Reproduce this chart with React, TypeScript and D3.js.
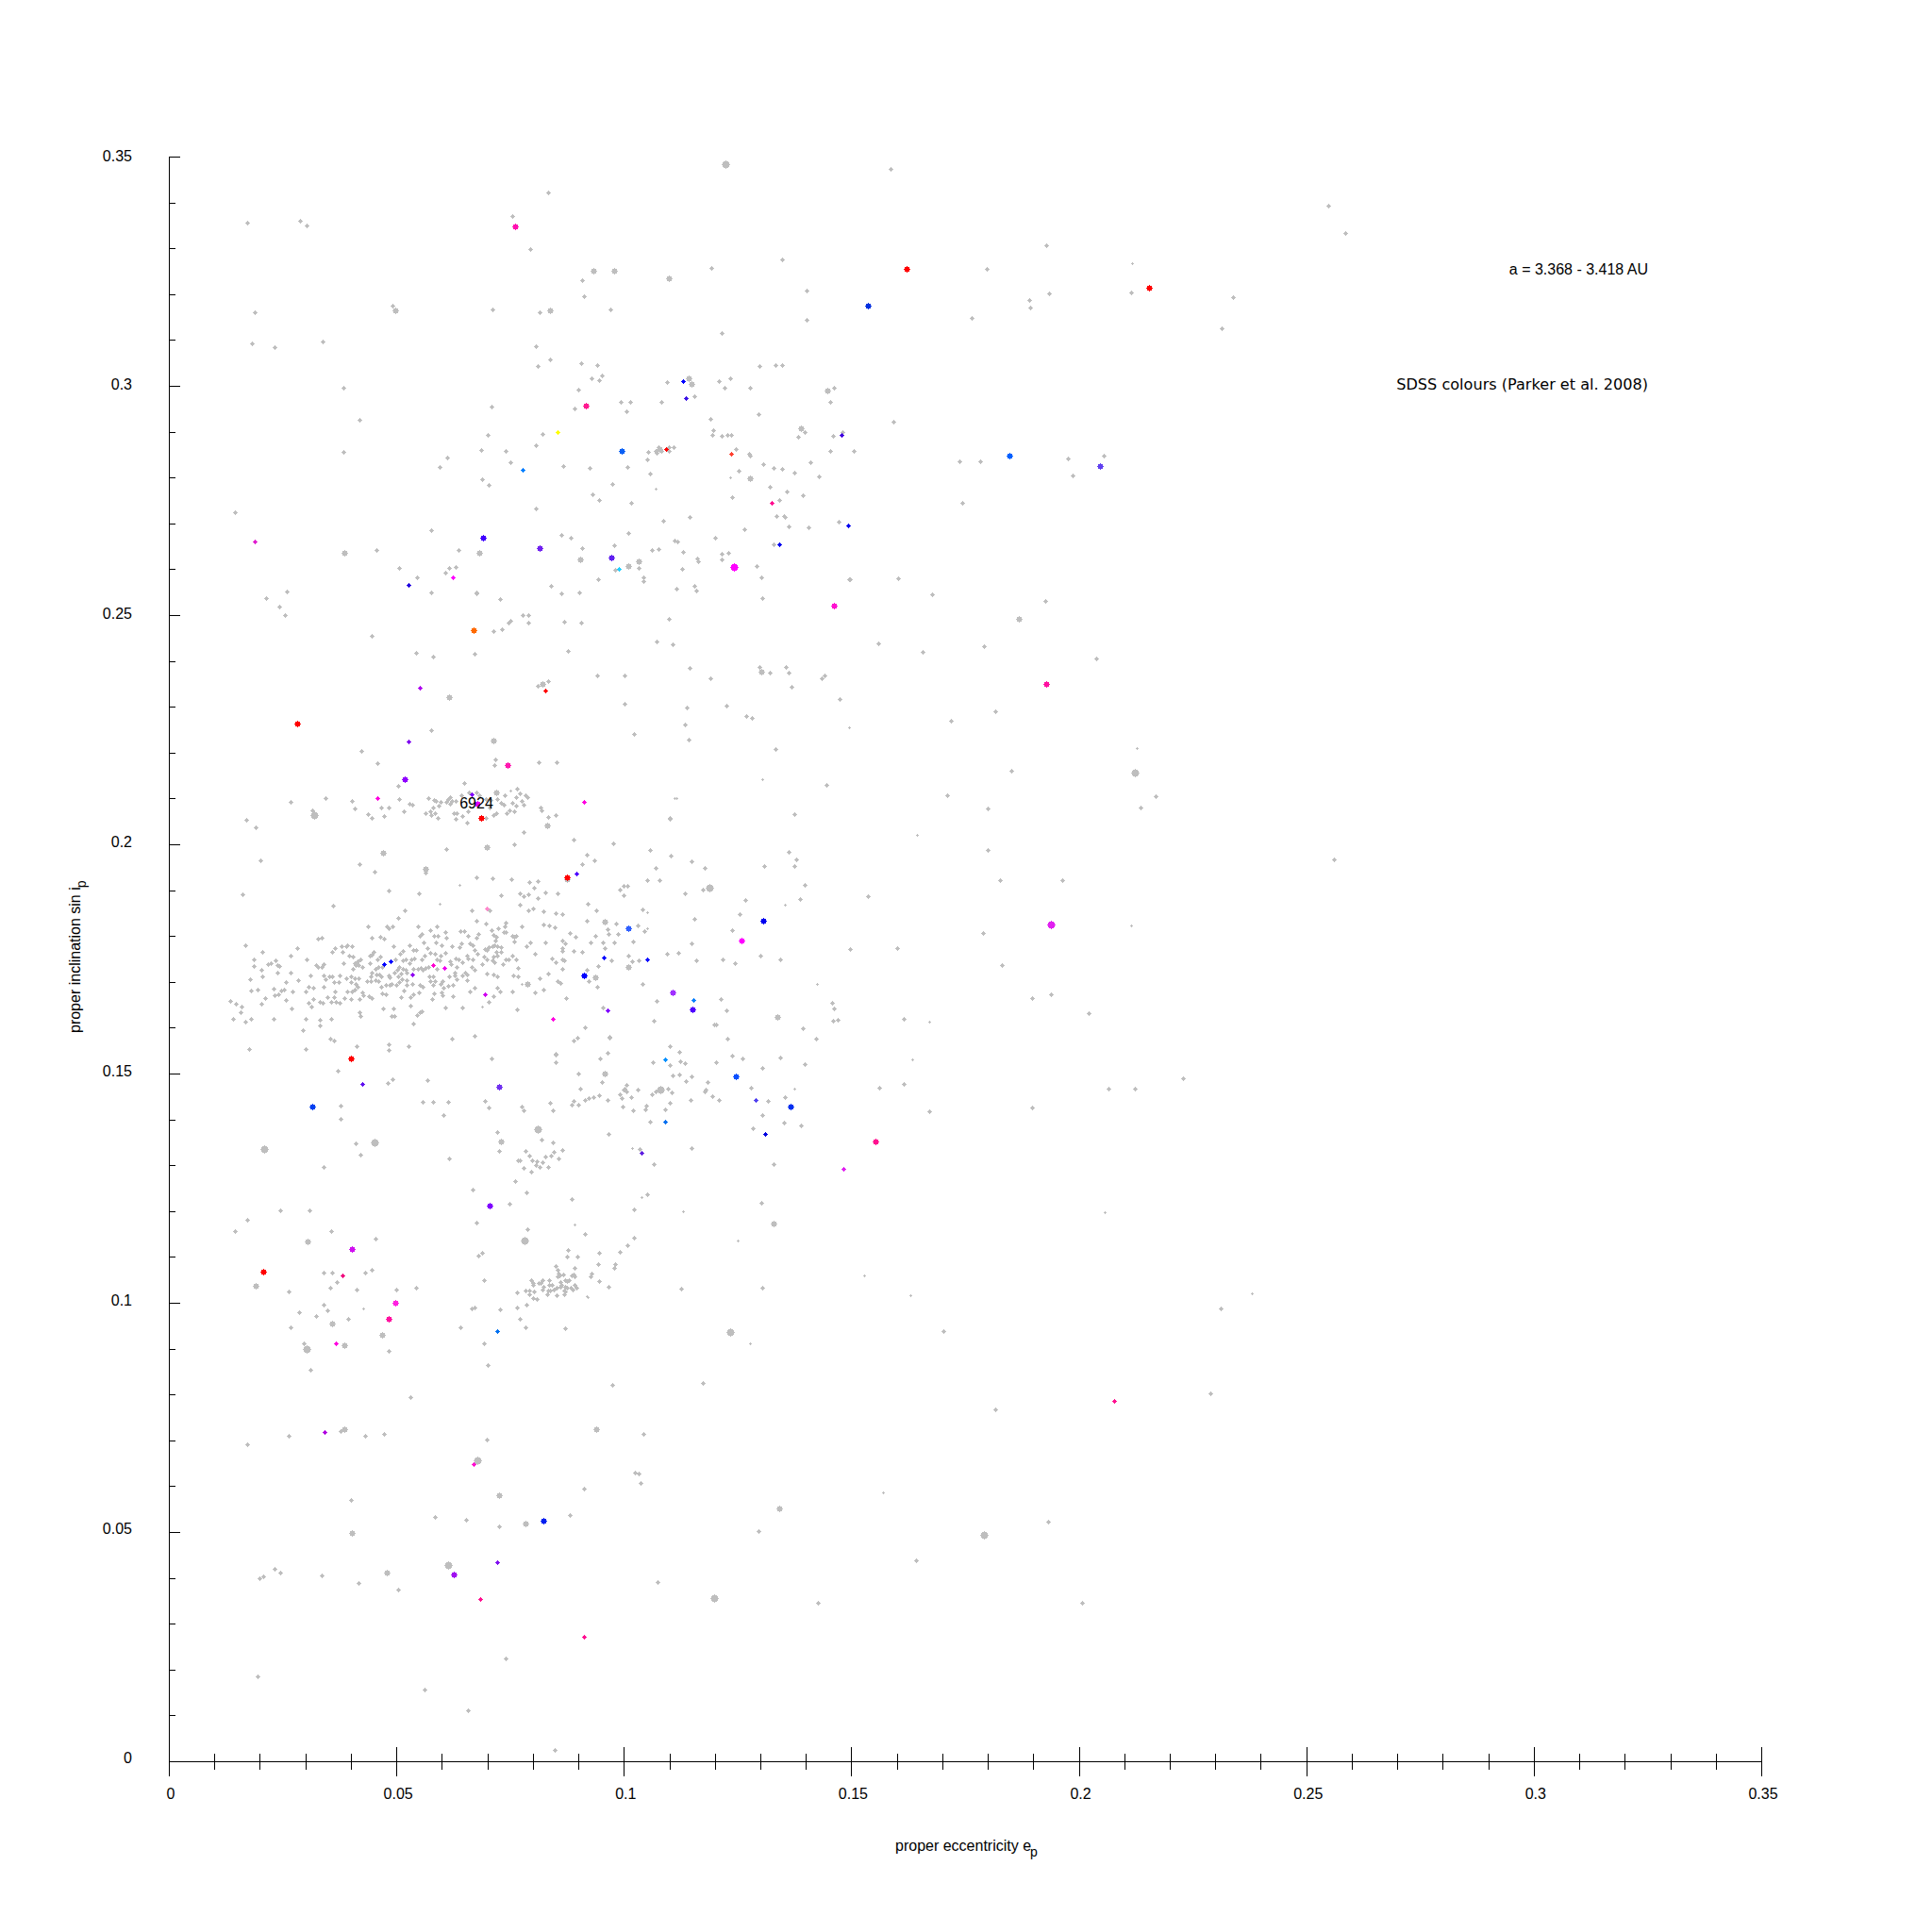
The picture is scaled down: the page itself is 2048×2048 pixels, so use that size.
import React from "react";
import * as d3 from "d3";

const xTickLabels = ["0", "0.05", "0.1", "0.15", "0.2", "0.25", "0.3", "0.35"];
const yTickLabels = ["0", "0.05", "0.1", "0.15", "0.2", "0.25", "0.3", "0.35"];

const grayTiny: [number, number][] = [
[.2117,.3268],[.1070,.2775],[.1233,.2800],[.1354,.1868],[.1051,.1851],[.1051,.1816],[.1424,.1695],[.1374,.1468],[.1018,.1337],[.0891,.1170],[.1038,.1230],[.0920,.1012],[.0595,.1870],[.0688,.1647],[.0775,.1695],[.0750,.2118],[.1115,.2100],[.1494,.2256],[.2127,.2210],[.1645,.2020],[.2115,.1823],[.1672,.1613],[.1634,.1530],[.1304,.2142],[.1112,.2100],[.0638,.1912],[.0427,.0987],[.0919,.1014],[.1131,.1200],[.1250,.1135],[.1529,.1060],[.1629,.1017],[.2057,.1197],[.2380,.1020],[.1277,.0912],[.1570,.0587]];

const grayMedium: [number, number][] = [
[.0933,.3252],[.0979,.3250],[.1098,.3235],[.0497,.3164],[.0838,.3164],[.1143,.3016],[.1148,.3005],[.1447,.2989],[.1389,.2907],[.1079,.2863],[.1277,.2798],[.0903,.2621],[.0682,.2635],[.1009,.2608],[.1032,.2617],[.0386,.2635],[.1868,.2492],[.1302,.2377],[.0822,.2350],[.0616,.2320],[.0714,.2227],[.0719,.2114],[.0831,.2041],[.0698,.1993],[.0470,.1981],[.0565,.1947],[.0874,.1923],[.1009,.1732],[.1337,.1623],[.0937,.1709],[.0788,.1695],[.0957,.1501],[.0957,.1831],[.0729,.1351],[.0305,.1134],[.0191,.1038],[.0359,.0955],[.0468,.0931],[.0386,.0907],[.0939,.0724],[.0386,.0724],[.1342,.0552],[.0402,.0498],[.0784,.0519],[.0478,.0412],[.1329,.1173],[.0725,.0581]];

const grayLarge: [number, number][] = [
[.1223,.3484],[.1188,.1905],[.1080,.1466],[.0810,.1378],[.0781,.1135],[.0319,.2063],[.0451,.1350],[.0210,.1336],[.0302,.0899],[.1234,.0936],[.0679,.0656],[.1792,.0493],[.0614,.0428],[.1199,.0356],[.2124,.2156]];

const graySmall: [number, number][] = [
[.1586,.3473],[.2549,.3392],[.2585,.3333],[.0833,.3422],[.0172,.3355],[.0289,.3360],[.0302,.3349],[.0754,.3371],[.0795,.3298],[.1928,.3306],[.1348,.3276],[.1193,.3258],[.0909,.3230],[.1797,.3255],[.1402,.3207],[.0912,.3196],[.1935,.3202],[.2114,.3204],[.2339,.3193],[.1892,.3187],[.1894,.3170],[.0492,.3175],[.0188,.3161],[.0814,.3161],[.0971,.3166],[.0711,.3166],[.1402,.3145],[.1764,.3148],[.2314,.3126],[.1215,.3115],[.0337,.3097],[.0183,.3092],[.0232,.3084],[.0806,.3086],[.0384,.2995],[.0419,.2925],[.0838,.3057],[.0811,.3043],[.0906,.3049],[.0952,.3022],[.1592,.2922],[.1299,.3043],[.1334,.3046],[.1348,.3046],[.0941,.3046],
[.0928,.3016],[.0945,.3012],[.1094,.3008],[.1208,.3010],[.1233,.3016],[.1221,.2995],[.1277,.2995],[.1461,.2995],[.0899,.2991],[.0993,.2966],[.1014,.2966],[.1082,.2964],[.1155,.2977],[.1453,.2966],[.0709,.2954],[.0891,.2950],[.1005,.2944],[.1295,.2938],[.1190,.2927],[.1383,.2888],[.1397,.2899],[.1480,.2900],[.1459,.2890],[.0700,.2894],[.0821,.2896],[.0806,.2870],[.0686,.2861],[.0740,.2859],[.0750,.2833],[.0688,.2796],[.0703,.2783],[.0866,.2826],[.0924,.2822],[.1007,.2824],[.0974,.2785],[.0931,.2763],[.0945,.2750],[.1016,.2744],[.0806,.2732],[.1057,.2808],[.1051,.2839],[.1053,.2855],[.1070,.2859],[.1072,.2853],[.1083,.2857],[.1076,.2866],[.1099,.2866],[.1099,.2859],[.1109,.2866],[.1196,.2903],[.1194,.2892],[.1215,.2890],[.1227,.2892],[.1235,.2894],[.1246,.2863],[.1275,.2851],[.1277,.2847],[.1252,.2814],[.1306,.2829],[.1329,.2820],[.1347,.2818],[.1374,.2810],[.1410,.2833],[.1428,.2802],[.1453,.2859],[.1505,.2859],[.1320,.2779],[.1358,.2769],[.1237,.2757],[.1341,.2750],[.1393,.2761],[.1335,.2717],[.1352,.2717],[.1354,.2713],[.1362,.2693],[.1405,.2691],[.1472,.2703],[.1264,.2687],[.1144,.2715],[.1086,.2705],[.1009,.2678],[.0862,.2674],[.0883,.2668],[.0908,.2647],[.0978,.2652],[.1111,.2662],[.1117,.2660],[.1200,.2668],[.1061,.2643],[.1076,.2645],[.1329,.2654],[.1130,.2637],[.1215,.2633],[.1229,.2635],[.1215,.2621],[.1161,.2623],[.1163,.2617],[.1032,.2602],[.0980,.2598],[.1128,.2600],[.1291,.2608],[.1302,.2582],[.1497,.2579],[.0943,.2579],[.1043,.2582],[.1043,.2575],[.0839,.2563],[.1115,.2557],[.1155,.2563],[.1159,.2553],[.0676,.2547],[.0862,.2547],[.0901,.2549],[.0727,.2534],[.1304,.2538],[.0777,.2501],[.0790,.2501],[.0790,.2483],[.0750,.2487],[.0746,.2483],[.0732,.2470],[.0713,.2466],[.0868,.2485],[.0906,.2483],[.1099,.2491],[.1072,.2442],[.1107,.2436],[.0671,.2415],[.0877,.2421],
[.1057,.1987],[.1103,.1975],[.1148,.1962],[.1070,.1948],[.1177,.1948],[.1051,.1921],[.1078,.1921],[.0991,.1901],[.0999,.1909],[.1007,.1909],[.0999,.1888],[.1173,.1901],[.1134,.1892],[.1362,.1983],[.1378,.1968],[.1374,.1952],[.1308,.1952],[.1397,.1911],[.1387,.1880],[.1267,.1878],[.1536,.1886],[.1254,.1847],[.1040,.1857],[.1155,.1837],[.1238,.1812],[.0982,.1827],[.1030,.1823],[.1045,.1810],[.0964,.1814],[.0987,.1804],[.0966,.1804],[.1020,.1789],[.0978,.1787],[.1148,.1783],[.0958,.1773],[.1094,.1761],[.1119,.1763],[.1009,.1757],[.0972,.1746],[.1018,.1744],[.1032,.1746],[.1159,.1746],[.1217,.1748],[.1244,.1740],[.1300,.1757],[.1343,.1750],[.1497,.1771],[.1600,.1773],[.1040,.1695],[.1072,.1658],[.1213,.1662],[.1457,.1654],[.1461,.1643],[.1225,.1637],[.1065,.1615],[.1198,.1608],[.1202,.1608],[.1459,.1615],[.1470,.1617],[.1615,.1619],[.1393,.1598],[.1422,.1576],[.1227,.1577],[.0968,.1580],[.1101,.1559],[.1121,.1547],[.0964,.1545],[.1238,.1540],[.1260,.1532],[.1343,.1536],[.1123,.1526],[.1063,.1524],[.1134,.1522],[.1101,.1518],[.1202,.1524],[.1397,.1520],[.1304,.1512],[.1107,.1495],[.1121,.1497],[.1148,.1493],[.1136,.1483],[.1184,.1481],[.1279,.1470],[.1561,.1470],[.1615,.1477],[.1030,.1464],[.1096,.1468],[.1105,.1458],[.1179,.1464],
[.0889,.1573],[.0897,.1578],[.0968,.1578],[.0850,.1543],[.0850,.1524],[.0947,.1532],[.0899,.1499],[.0951,.1481],[.0904,.1468],[.0837,.1436],[.0885,.1433],[.0889,.1440],[.0899,.1433],[.0914,.1442],[.0922,.1446],[.0933,.1448],[.0945,.1452],[.0844,.1419],[.0964,.1442],[.0991,.1454],[.0995,.1446],[.0997,.1429],[.1016,.1448],[.1020,.1419],[.1049,.1431],[.1047,.1421],[.1061,.1454],[.1090,.1421],[.1101,.1436],[.1057,.1396],[.1146,.1442],[.1177,.1460],[.1194,.1450],[.1208,.1442],[.1316,.1440],[.1353,.1448],[.1304,.1409],[.1351,.1394],[.1389,.1386],[.1283,.1380],[.0966,.1368],[.0819,.1355],[.0844,.1349],[.0864,.1333],[.0846,.1329],[.0839,.1320],[.0827,.1318],[.0856,.1314],[.0792,.1322],[.0798,.1310],[.0808,.1308],[.0821,.1306],[.0806,.1300],[.0814,.1296],[.0833,.1296],[.0796,.1287],[.1034,.1335],[.1148,.1337],[.1065,.1302],[.1329,.1302],[.1005,.1475],[.1001,.1468],[.0999,.1464],[.1005,.1460],[.1030,.1464],[.1070,.1460],
[.0721,.1372],[.0725,.1331],[.0783,.1331],[.0767,.1310],[.0771,.1310],[.0779,.1294],[.0761,.1265],[.0667,.1246],[.0785,.1240],[.0748,.1217],[.0885,.1226],[.0676,.1174],[.0788,.1160],[.0914,.1150],[.1051,.1236],[.1022,.1203],[.1022,.1143],[.1007,.1125],[.0991,.1112],[.0945,.1110],[.0877,.1115],[.0875,.1100],[.0897,.1100],[.0688,.1110],[.0680,.1102],[.0692,.1049],[.0891,.1077],[.0943,.1084],[.0980,.1084],[.0978,.1077],[.0928,.1063],[.0926,.1057],[.0945,.1047],[.0966,.1034],[.0850,.1080],[.0854,.1071],[.0856,.1063],[.0854,.1057],[.0858,.1059],[.0866,.1061],[.0885,.1059],[.0890,.1061],[.0891,.1057],[.0870,.1050],[.0879,.1050],[.0875,.1047],[.0796,.1049],[.0800,.1043],[.0800,.1039],[.0821,.1049],[.0812,.1043],[.0817,.1043],[.0835,.1049],[.0823,.1036],[.0821,.1028],[.0835,.1039],[.0841,.1040],[.0860,.1045],[.0862,.1039],[.0860,.1034],[.0870,.1034],[.0875,.1032],[.0883,.1032],[.0891,.1039],[.0895,.1032],[.0887,.1028],[.0852,.1032],[.0846,.1028],[.0837,.1026],[.0833,.1026],[.0831,.1018],[.0852,.1016],[.0869,.1026],[.0870,.1024],[.0869,.1018],[.0765,.1022],[.0783,.1026],[.0792,.1026],[.0802,.1024],[.0792,.1018],[.0800,.1010],[.0808,.1008],[.0672,.0989],[.0727,.0985],[.0765,.0989],[.0785,.0995],[.0771,.0964]];

const grayCluster: [number, number][] = [
[.0135,.1658],[.0147,.1652],[.0159,.1647],[.0157,.1633],[.0141,.1619],[.0168,.1613],[.0180,.1619],[.0176,.1553],[.0168,.1779],[.0186,.1748],[.0186,.1734],[.0203,.1726],[.0205,.1765],[.0179,.1705],[.0205,.1711],[.0180,.1682],[.0195,.1684],[.0211,.1664],[.0203,.1652],[.0230,.1619],[.0218,.1738],[.0224,.1740],[.0234,.1746],[.0238,.1736],[.0242,.1734],[.0238,.1721],[.0267,.1758],[.0282,.1773],[.0267,.1721],[.0257,.1699],[.0284,.1703],[.0230,.1686],[.0246,.1682],[.0253,.1684],[.0271,.1678],[.0232,.1670],[.0240,.1672],[.0257,.1660],[.0269,.1643],[.0300,.1680],[.0307,.1689],[.0317,.1687],[.0317,.1662],[.0307,.1654],[.0313,.1647],[.0331,.1656],[.0338,.1654],[.0348,.1666],[.0356,.1656],[.0363,.1666],[.0367,.1656],[.0375,.1654],[.0385,.1664],[.0400,.1662],[.0419,.1662],[.0303,.1748],[.0311,.1713],[.0323,.1736],[.0327,.1732],[.0340,.1738],[.0335,.1732],[.0340,.1715],[.0344,.1705],[.0340,.1689],[.0352,.1711],[.0358,.1711],[.0363,.1699],[.0373,.1699],[.0375,.1713],[.0389,.1707],[.0400,.1711],[.0408,.1707],[.0410,.1695],[.0400,.1699],[.0416,.1707],[.0365,.1678],[.0391,.1680],[.0402,.1680],[.0408,.1684],[.0414,.1689],[.0425,.1676],[.0427,.1670],[.0439,.1668],[.0445,.1664],[.0327,.1794],[.0335,.1796],[.0358,.1765],[.0365,.1773],[.0379,.1777],[.0389,.1777],[.0392,.1780],[.0402,.1777],[.0381,.1765],[.0396,.1758],[.0404,.1756],[.0383,.1740],[.0408,.1740],[.0414,.1744],[.0421,.1750],[.0410,.1736],[.0416,.1736],[.0404,.1728],[.0425,.1732],[.0441,.1758],[.0445,.1760],[.0450,.1765],[.0441,.1740],[.0464,.1756],[.0458,.1750],[.0445,.1721],[.0454,.1728],[.0460,.1732],[.0468,.1732],[.0456,.1717],[.0462,.1717],[.0443,.1711],[.0435,.1701],[.0443,.1701],[.0454,.1703],[.0460,.1701],[.0466,.1711],[.0483,.1715],[.0485,.1709],[.0495,.1721],[.0502,.1726],[.0506,.1732],[.0514,.1728],[.0520,.1726],[.0510,.1719],[.0522,.1721],[.0504,.1711],[.0512,.1705],[.0522,.1703],[.0489,.1695],[.0477,.1693],[.0466,.1689],[.0485,.1693],[.0499,.1693],[.0506,.1699],[.0522,.1693],[.0535,.1695],[.0551,.1693],[.0558,.1689],[.0516,.1682],[.0477,.1672],[.0468,.1674],[.0510,.1666],[.0531,.1666],[.0537,.1672],[.0549,.1676],[.0531,.1648],[.0470,.1643],[.0493,.1643],[.0489,.1625],[.0495,.1625],[.0537,.1610],[.0545,.1627],[.0551,.1633],[.0556,.1635],[.0419,.1633],[.0421,.1625],[.0300,.1619],[.0331,.1617],[.0331,.1604],[.0356,.1619],[.0294,.1594],[.0354,.1577],[.0363,.1573],[.0300,.1553],[.0412,.1559],[.0483,.1563],[.0483,.1551],[.0527,.1559],[.0371,.1507],[.0491,.1487],[.0481,.1479],[.0568,.1485],[.0622,.1577],[.0672,.1582],[.0709,.1532],[.0607,.1645],[.0645,.1645],[.0703,.1656],[.0582,.1674],[.0578,.1662],[.0599,.1676],[.0601,.1670],[.0624,.1668],[.0661,.1680],[.0672,.1687],[.0713,.1668],[.0721,.1687],[.0727,.1678],[.0754,.1678],[.0765,.1639],[.0804,.1676],[.0823,.1684],[.0873,.1664],[.0815,.1707],[.0833,.1719],[.0854,.1701],[.0860,.1697],[.0922,.1701],[.0941,.1689],[.0953,.1645],[.0914,.1600],[.0889,.1573],[.0850,.1542],[.0947,.1532],[.0842,.1751],[.0850,.1742],[.0864,.1728],[.0864,.1748],[.0869,.1746],[.0864,.1767],[.0864,.1773],[.0889,.1767],[.0908,.1765],[.0864,.1791],[.0871,.1783],[.0827,.1785],[.0804,.1761],[.0785,.1777],[.0794,.1785],[.0881,.1806],[.0893,.1798],[.0823,.1826],[.0835,.1824],[.0848,.1818],[.0918,.1833],[.0823,.1853],[.0850,.1849],[.0864,.1847],[.0939,.1855],[.0920,.1870],[.0800,.1861],[.0790,.1855],[.0771,.1868],[.0779,.1886],[.0810,.1882],[.0926,.1787],[.0937,.1800],[.0953,.1785],[.0957,.1773],[.0943,.1734],[.0918,.1726],[.0767,.1730],[.0756,.1713],[.0767,.1711],[.0763,.1748],[.0746,.1750],[.0740,.1750],[.0754,.1758],[.0734,.1738],[.0775,.1820],[.0758,.1798],[.0754,.1800],[.0763,.1800],[.0758,.1789],[.0740,.1830],[.0738,.1822],[.0723,.1816],[.0710,.1812],[.0736,.1808],[.0740,.1808],[.0713,.1802],[.0719,.1798],[.0717,.1791],[.0696,.1828],[.0676,.1834],[.0665,.1855],[.0360,.1866],[.0518,.1855],[.0504,.1839],[.0437,.1820],[.0479,.1822],[.0483,.1816],[.0705,.1855],[.0547,.1820],[.0589,.1820],[.0574,.1812],[.0607,.1808],[.0555,.1804],[.0551,.1800],[.0582,.1800],[.0591,.1800],[.0609,.1796],[.0640,.1810],[.0649,.1810],[.0657,.1800],[.0680,.1804],[.0676,.1796],[.0445,.1796],[.0464,.1798],[.0472,.1794],[.0493,.1777],[.0528,.1779],[.0514,.1767],[.0508,.1761],[.0537,.1769],[.0543,.1769],[.0560,.1785],[.0587,.1785],[.0599,.1779],[.0622,.1777],[.0642,.1783],[.0638,.1775],[.0661,.1783],[.0667,.1779],[.0694,.1771],[.0702,.1775],[.0711,.1777],[.0715,.1779],[.0721,.1777],[.0729,.1775],[.0719,.1765],[.0713,.1756],[.0721,.1758],[.0729,.1765],[.0699,.1769],[.0692,.1756],[.0699,.1750],[.0711,.1746],[.0715,.1742],[.0688,.1738],[.0678,.1761],[.0672,.1769],[.0568,.1773],[.0574,.1763],[.0561,.1758],[.0555,.1750],[.0585,.1761],[.0597,.1758],[.0607,.1763],[.0589,.1748],[.0595,.1746],[.0630,.1752],[.0636,.1748],[.0645,.1742],[.0655,.1758],[.0657,.1752],[.0667,.1750],[.0618,.1744],[.0620,.1738],[.0632,.1732],[.0665,.1732],[.0672,.1726],[.0699,.1719],[.0713,.1717],[.0721,.1711],[.0651,.1721],[.0655,.1717],[.0644,.1713],[.0655,.1703],[.0632,.1705],[.0628,.1721],[.0628,.1713],[.0589,.1728],[.0553,.1730],[.0564,.1730],[.0570,.1733],[.0558,.1726],[.0547,.1728],[.0537,.1728],[.0533,.1750],[.0520,.1750],[.0539,.1752],[.0497,.1750],[.0514,.1746],[.0528,.1740],[.0572,.1711],[.0580,.1711],[.0574,.1701],[.0584,.1701],[.0601,.1701],[.0597,.1695],[.0580,.1693],[.0613,.1691],[.0624,.1693],[.0603,.1687],[.0615,.1711],
[.0503,.2127],[.0344,.2100],[.0402,.2094],[.0408,.2078],[.0437,.2065],[.0445,.2057],[.0466,.2080],[.0483,.2080],[.0472,.2061],[.0506,.2098],[.0516,.2073],[.0528,.2088],[.0535,.2086],[.0315,.2075],[.0570,.2100],[.0564,.2067],[.0574,.2073],[.0576,.2063],[.0580,.2080],[.0584,.2068],[.0591,.2057],[.0593,.2084],[.0597,.2092],[.0582,.2096],[.0586,.2094],[.0609,.2092],[.0613,.2098],[.0617,.2102],[.0622,.2094],[.0617,.2088],[.0630,.2094],[.0626,.2067],[.0632,.2067],[.0630,.2055],[.0644,.2061],[.0655,.2047],[.0649,.2133],[.0642,.2108],[.0657,.2073],[.0659,.2114],[.0676,.2114],[.0682,.2106],[.0696,.2098],[.0707,.2096],[.0721,.2098],[.0738,.2106],[.0765,.2122],[.0771,.2112],[.0763,.2102],[.0783,.2108],[.0787,.2102],[.0775,.2094],[.0754,.2090],[.0763,.2084],[.0779,.2086],[.0729,.2090],[.0736,.2086],[.0748,.2075],[.0758,.2073],[.0742,.2068],[.0713,.2063],[.0719,.2067],[.0696,.2057],[.0705,.2080],[.0816,.2080],[.0819,.2075],[.0833,.2059],[.0850,.2063],[.0779,.2026],[.0758,.2000],[.0609,.1989],[.0418,.1956],[.0564,.1939],[.0812,.2180],[.0852,.2178],[.0717,.2186],[.0715,.2172],[.1100,.2055],[.0976,.2003],[.0889,.2010],[.0918,.1977],[.0908,.1956],[.0935,.1964]];

const graySparse: [number, number][] = [
[.0833,.2355],[.0811,.2345],[.0941,.2368],[.1001,.2368],[.1001,.2307],[.1023,.2240],[.1139,.2299],[.1134,.2262],[.1142,.2229],[.1144,.2384],[.1190,.2363],[.1226,.2303],[.1269,.2280],[.1282,.2276],[.1299,.2387],[.1320,.2374],[.1356,.2387],[.1362,.2374],[.1369,.2344],[.1442,.2368],[.1434,.2363],[.1475,.2317],[.1559,.2438],[.1656,.2420],[.1792,.2433],[.1927,.2530],[.2038,.2406],[.1678,.2546],[.1602,.2581],[.1496,.2578],[.1719,.2269],[.1816,.2290],[.1851,.2161],[.2168,.2105],[.2135,.2081],[.2561,.1968],[.1710,.2108],[.1800,.2079],[.1800,.1987],[.1963,.1922],[.1827,.1922],[.1789,.1807],[.1830,.1737],[.1897,.1664],[.1939,.1672],[.2022,.1631],[.1672,.1417],[.1897,.1425],[.2065,.1468],[.2124,.1468],[.2230,.1489],[.1445,.2129],[.1375,.2065],[.1334,.2208],[.1101,.2057],
[.0576,.2249],[.0424,.2203],[.0459,.2176],[.0267,.2092],[.0170,.2054],[.0191,.2037],[.0202,.1966],[.0161,.1890],[.0419,.1957],[.0451,.1941],[.0676,.1927],[.0711,.1926],[.0752,.1923],[.0549,.1893],[.0484,.1900],[.0492,.1820],[.0790,.1890],[.0793,.1917],[.0811,.1919],[.0803,.1905],[.0771,.1893],[.0730,.1888],[.0828,.1896],[.0855,.1893],
[.0145,.2724],[.0457,.2643],[.0505,.2603],[.0546,.2583],[.0576,.2686],[.0636,.2641],[.0615,.2603],[.0607,.2592],[.0630,.2605],[.0576,.2549],[.0676,.2549],[.0446,.2455],[.0259,.2551],[.0213,.2537],[.0243,.2519],[.0256,.2500],[.0543,.2417],[.0581,.2409],[.0383,.2855],[.0595,.2823],[.0611,.2844],[.1737,.2836],[.1783,.2836],[.1743,.2745],[.1976,.2841],[.1986,.2804],[.2054,.2847],
[.0411,.1348],[.0421,.1323],[.0340,.1296],[.0557,.1439],[.0581,.1439],[.0603,.1409],[.0614,.1439],[.0378,.1430],[.0378,.1401],[.0616,.1315],[.0245,.1202],[.0308,.1202],[.0172,.1181],[.0145,.1157],[.0356,.1157],[.0454,.1140],[.0264,.1025],[.0340,.1065],[.0359,.1065],[.0370,.1046],[.0432,.1065],[.0500,.1028],[.0446,.1073],[.0543,.1033],[.0354,.1033],[.0413,.1028],[.0340,.0995],[.0348,.0984],[.0286,.0979],[.0267,.0947],[.0324,.0971],[.0394,.0966],[.0297,.0912],[.0484,.0896],[.0310,.0853],[.0641,.0947],[.0665,.0987],[.0692,.0912],[.0700,.0864],[.0784,.0947],[.0871,.0944],
[.1302,.1218],[.1702,.0939],[.2312,.0987],[.1304,.1033],[.1126,.1030],[.0974,.0821],[.1174,.0826],[.1816,.0767],[.2290,.0802],[.1042,.0715],[.1025,.0630],[.1033,.0627],[.1036,.0606],[.0698,.0702],[.0378,.0721],[.0432,.0710],[.0473,.0715],[.0264,.0710],[.0172,.0691],[.0530,.0794],[.0912,.0595],[.1932,.0522],[.0400,.0570],[.0584,.0533],[.0654,.0527],[.0725,.0512],[.0882,.0538],[.1296,.0503],[.0503,.0375],[.0416,.0388],[.0335,.0406],[.0232,.0420],[.0245,.0412],[.0208,.0404],[.0199,.0399],[.1074,.0391],[.1426,.0345],[.1643,.0439],[.2008,.0345],[.0194,.0186],[.0741,.0224],[.0561,.0157],[.0657,.0111],[.0849,.0025],[.0695,.1441],[.0703,.1425],[.0776,.1428],[.0779,.1419]];

const colouredSmall: [number, number, string][] = [
[.1130,.3010,"#0000ff"],[.1136,.2973,"#3b12e6"],[.0854,.2899,"#ffff00"],[.0777,.2816,"#007fff"],[.1092,.2863,"#ff0000"],[.1235,.2851,"#ff4030"],[.1478,.2892,"#4000e0"],[.1325,.2744,"#ff1090"],[.1492,.2695,"#0000f0"],[.0989,.2600,"#20d0ff"],[.1341,.2655,"#0000f0"],
[.1051,.1750,"#1010ff"],[.0956,.1754,"#0000ff"],[.1152,.1660,"#0a80ff"],[.0964,.1637,"#8000ff"],[.1090,.1530,"#0090ff"],[.1090,.1396,"#0070f0"],[.1289,.1442,"#5040f0"],[.1310,.1368,"#0000e0"],[.1038,.1328,"#6020e0"],
[.0458,.2100,"#ff00e0"],[.0665,.2110,"#8000ff"],[.0912,.2092,"#ff00e0"],[.0896,.1936,"#5000ff"],[.0698,.1861,"#ff88cc"],[.0473,.1738,"#0000ff"],[.0487,.1744,"#0000ff"],[.0534,.1717,"#9000f0"],[.0580,.1736,"#ff00d0"],[.0605,.1730,"#f000f0"],[.0694,.1672,"#d000f0"],[.0844,.1619,"#ff00e0"],[.0425,.1477,"#6010f0"],
[.0188,.2660,"#e020d0"],[.0527,.2566,"#2000e0"],[.0624,.2583,"#ff00ff"],[.0551,.2342,"#b000f0"],[.0828,.2335,"#ff0000"],[.0527,.2224,"#8000f0"],[.1483,.1293,"#e020f0"],[.0381,.1059,"#f01080"],[.0367,.0912,"#ff00e0"],[.0722,.0939,"#0070f0"],[.2078,.0786,"#ff1090"],[.0343,.0719,"#b000e0"],[.0670,.0649,"#ff10d0"],[.0722,.0434,"#8010f0"],[.0684,.0353,"#ff1090"],[.0912,.0272,"#ff1090"]];

const colouredMedium: [number, number, string][] = [
[.0916,.2956,"#ff1a90"],[.0995,.2857,"#0a60f5"],[.0690,.2668,"#4000ff"],[.0814,.2647,"#7020f0"],[.0972,.2625,"#6020f0"],[.1461,.2520,"#ff10d0"],[.0669,.2468,"#ff6a00"],
[.1009,.1816,"#3060ff"],[.1107,.1676,"#a030ff"],[.1150,.1639,"#5000ff"],[.1306,.1833,"#0000f0"],[.1258,.1791,"#ff00ff"],[.1246,.1493,"#0a50ff"],[.1366,.1427,"#0030f0"],[.0705,.1211,"#8000ff"],
[.0518,.2143,"#9000ff"],[.0678,.2088,"#e000ff"],[.0686,.2057,"#ff0000"],[.0744,.2172,"#ff1ab0"],[.0876,.1928,"#ff0000"],[.0400,.1532,"#ff0000"],[.0912,.1715,"#0000ff"],
[.0760,.3347,"#ff10b0"],[.1621,.3255,"#ff0000"],[.1536,.3175,"#0030e0"],[.2154,.3215,"#ff0000"],[.1848,.2848,"#0060ff"],[.2046,.2826,"#6040f0"],[.0283,.2264,"#ff0000"],[.1929,.2350,"#ff10a0"],[.0316,.1429,"#0040f0"],[.0725,.1471,"#7030f0"],[.1553,.1352,"#ff1090"],[.0402,.1118,"#d010f0"],[.0207,.1067,"#ff0000"],[.0497,.1000,"#ff20e0"],[.0484,.0966,"#ff10a0"],[.0824,.0525,"#0020f0"],[.0627,.0407,"#a010f0"]];

const colouredLarge: [number, number, string][] = [
[.1242,.2604,"#ff00ff"],[.1938,.1826,"#e020f0"]];

// Row widths of the bitmap-style markers, one table per marker size.
const TINY = [1, 3, 1];
const SMALL = [1, 3, 5, 3, 1];
const MEDIUM = [1, 5, 5, 7, 5, 5, 1];
const LARGE = [1, 5, 7, 7, 9, 7, 7, 5, 1];

const x = d3.scaleLinear().domain([0, 0.35]).range([179.5, 1867.5]);
const y = d3.scaleLinear().domain([0, 0.35]).range([1867.5, 166.5]);

function marker(e: number, inc: number, rows: number[]): string {
  const cx = Math.floor(x(e));
  const cy = Math.floor(y(inc));
  const half = (rows.length - 1) / 2;
  const p = d3.path();
  rows.forEach((w, k) => {
    p.rect(cx - (w - 1) / 2, cy - half + k, w, 1);
  });
  return p.toString();
}

const pointSets: { data: [number, number][]; rows: number[] }[] = [
  { data: grayTiny, rows: TINY },
  { data: graySmall, rows: SMALL },
  { data: grayCluster, rows: SMALL },
  { data: graySparse, rows: SMALL },
  { data: grayMedium, rows: MEDIUM },
  { data: grayLarge, rows: LARGE },
];
const colouredSets: { data: [number, number, string][]; rows: number[] }[] = [
  { data: colouredSmall, rows: SMALL },
  { data: colouredMedium, rows: MEDIUM },
  { data: colouredLarge, rows: LARGE },
];

const minorTicks = d3.range(0, 36).map((d) => d / 100);
const majorTicks = d3.range(0, 8).map((d) => d * 0.05);
const yLabelPos = d3.scaleLinear().domain([0, 0.35]).range([1869, 170.5]);
const SANS = "'Liberation Sans', Arial, sans-serif";
const AXIS = { stroke: "#000", strokeWidth: 1, shapeRendering: "crispEdges" as const };

export default function App() {
  return (
    <svg
      width={2048}
      height={2048}
      viewBox="0 0 2048 2048"
      style={{ position: "absolute", left: 0, top: 0, background: "#fff" }}
    >
      <g fill="#bebebe" shapeRendering="crispEdges">
        {pointSets.map((s, i) =>
          s.data.map((p, j) => <path key={`${i}-${j}`} d={marker(p[0], p[1], s.rows)} />)
        )}
      </g>
      <g shapeRendering="crispEdges">
        {colouredSets.map((s, i) =>
          s.data.map((p, j) => <path key={`${i}-${j}`} d={marker(p[0], p[1], s.rows)} fill={p[2]} />)
        )}
      </g>

      <line x1={x(0)} x2={x(0)} y1={166} y2={1883} {...AXIS} />
      <line x1={x(0)} x2={x(0.35)} y1={y(0)} y2={y(0)} {...AXIS} />
      {minorTicks.slice(1).map((t) => (
        <g key={t}>
          <line x1={x(t)} x2={x(t)} y1={1859} y2={1876} {...AXIS} />
          <line x1={x(0)} x2={x(0) + 6} y1={y(t)} y2={y(t)} {...AXIS} />
        </g>
      ))}
      {majorTicks.slice(1).map((t) => (
        <g key={t}>
          <line x1={x(t)} x2={x(t)} y1={1852} y2={1883} {...AXIS} />
          <line x1={x(0)} x2={x(0) + 11} y1={y(t)} y2={y(t)} {...AXIS} />
        </g>
      ))}

      <g fontFamily={SANS} fontSize={16} fill="#000">
        {xTickLabels.map((l, i) => (
          <text key={l} x={x(majorTicks[i]) + 1.5} y={1907} textAnchor="middle">{l}</text>
        ))}
        {yTickLabels.map((l, i) => (
          <text key={l} x={140} y={yLabelPos(majorTicks[i])} textAnchor="end">{l}</text>
        ))}
        <text x={949} y={1962}>proper eccentricity e<tspan dx={-1} dy={6} fontSize={14}>p</tspan></text>
        <text transform="translate(85,1095) rotate(-90)">proper inclination sin i<tspan dx={-1} dy={6} fontSize={14}>p</tspan></text>
        <text x={505} y={857} textAnchor="middle">6924</text>
        <text x={1747} y={291} textAnchor="end">a = 3.368 - 3.418 AU</text>
      </g>
      <text x={1747} y={413} textAnchor="end" fontFamily="'DejaVu Sans', sans-serif" fontSize={16.1} fill="#000">
        SDSS colours (Parker et al. 2008)
      </text>
    </svg>
  );
}
